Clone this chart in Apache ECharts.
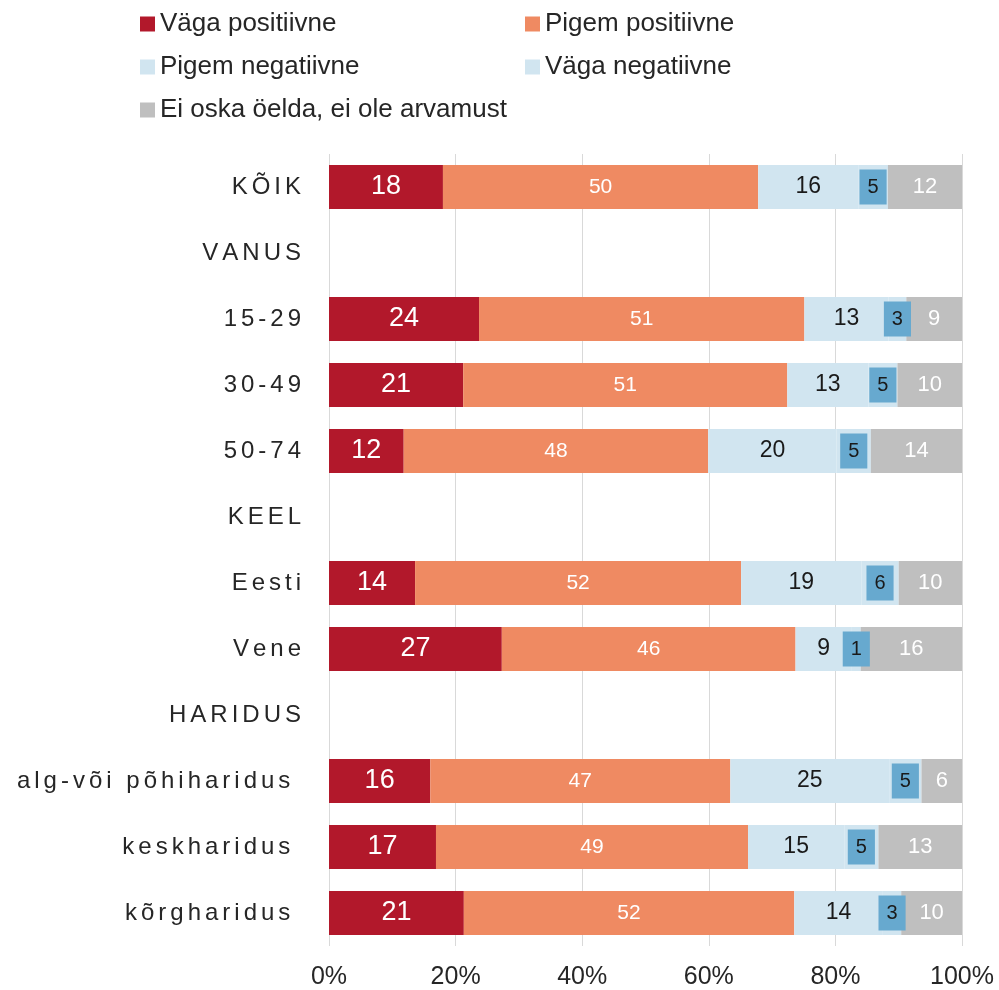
<!DOCTYPE html>
<html>
<head>
<meta charset="utf-8">
<script src="https://cdn.jsdelivr.net/npm/echarts@6/dist/echarts.min.js"></script>
<style>
  html, body { margin: 0; padding: 0; background: #ffffff; }
  #chart { width: 999px; height: 990px; }
</style>
</head>
<body>
<div id="chart"></div>
<script>
const categories = ['KÕIK', 'VANUS', '15-29', '30-49', '50-74', 'KEEL', 'Eesti', 'Vene', 'HARIDUS', 'alg-või põhiharidus ', 'keskharidus ', 'kõrgharidus '];
const seriesNames = ['Väga positiivne', 'Pigem positiivne', 'Pigem negatiivne', 'Väga negatiivne', 'Ei oska öelda, ei ole arvamust'];
const vagaPositiivne = [18.0, null, 23.7, 21.2, 11.8, null, 13.6, 27.3, null, 16.0, 16.9, 21.3];
const pigemPositiivne = [49.8, null, 51.4, 51.2, 48.1, null, 51.5, 46.4, null, 47.4, 49.3, 52.2];
const pigemNegatiivne = [15.8, null, 13.3, 12.8, 20.3, null, 19.0, 8.9, null, 25.1, 15.2, 14.0];
const vagaNegatiivne = [4.7, null, 2.8, 4.6, 5.4, null, 5.9, 1.4, null, 5.1, 5.4, 2.9];
const eiOska = [11.7, null, 8.8, 10.2, 14.4, null, 10.0, 16.0, null, 6.4, 13.2, 9.6];
const xTicks = [0, 20, 40, 60, 80, 100];

const FONT = "'Liberation Sans', Arial, sans-serif";
const TEXT = '#262626';
const colors = ['#b2182b', '#ef8a62', '#d1e5f0', '#d1e5f0', '#bfbfbf'];

function spaced(v) { return Array.from(v).join('\u2006'); }
const fmt = p => (p.value == null ? '' : String(Math.round(p.value)));

function bar(i, data, label) {
  return {
    name: seriesNames[i],
    type: 'bar',
    stack: 'total',
    barWidth: 44,
    data: data,
    itemStyle: { color: colors[i] },
    emphasis: { disabled: true },
    label: Object.assign({ show: true, position: 'inside', formatter: fmt, fontFamily: FONT }, label)
  };
}

const legendBase = {
  top: 11, orient: 'vertical', itemWidth: 15, itemHeight: 15, itemGap: 17, padding: 0,
  selectedMode: false, icon: 'rect',
  textStyle: { fontSize: 26, color: TEXT, fontFamily: FONT }
};

const chart = echarts.init(document.getElementById('chart'), null, { renderer: 'canvas' });
chart.setOption({
  animation: false,
  backgroundColor: '#ffffff',
  textStyle: { fontFamily: FONT },
  legend: [
    Object.assign({}, legendBase, { left: 140, data: [seriesNames[0], seriesNames[2], seriesNames[4]] }),
    Object.assign({}, legendBase, { left: 525, data: [seriesNames[1], seriesNames[3]] })
  ],
  grid: { left: 329, right: 37, top: 154, bottom: 43, containLabel: false },
  xAxis: {
    type: 'value', min: xTicks[0], max: xTicks[xTicks.length - 1], interval: 20,
    axisLine: { show: false }, axisTick: { show: false },
    splitLine: { show: true, lineStyle: { color: '#d9d9d9', width: 1 } },
    axisLabel: { formatter: '{value}%', fontSize: 25, color: TEXT, margin: 19, fontFamily: FONT }
  },
  yAxis: {
    type: 'category', inverse: true, data: categories,
    axisLine: { show: false }, axisTick: { show: false },
    axisLabel: { formatter: spaced, fontSize: 24, color: TEXT, margin: 28, fontFamily: FONT }
  },
  series: [
    bar(0, vagaPositiivne, { color: '#ffffff', fontSize: 27 }),
    bar(1, pigemPositiivne, { color: '#ffffff', fontSize: 21 }),
    bar(2, pigemNegatiivne, { color: '#1a1a1a', fontSize: 23 }),
    bar(3, vagaNegatiivne, { color: '#1a1a1a', fontSize: 20, backgroundColor: '#67a9cf', padding: [7, 8], lineHeight: 21 }),
    bar(4, eiOska, { color: '#ffffff', fontSize: 22 })
  ]
});
</script>
</body>
</html>
